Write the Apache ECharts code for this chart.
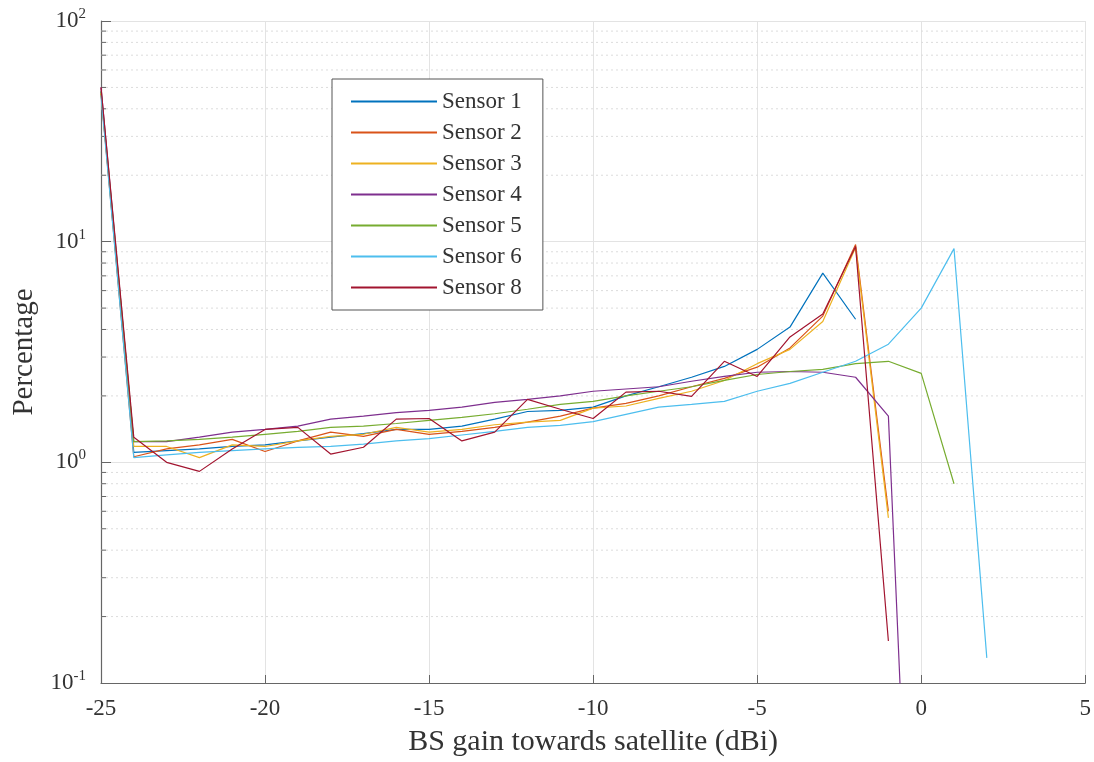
<!DOCTYPE html>
<html>
<head>
<meta charset="utf-8">
<script src="https://cdn.jsdelivr.net/npm/echarts@6/dist/echarts.min.js"></script>
<style>
  html, body { margin: 0; padding: 0; background: #fff; }
  #chart { width: 1094px; height: 762px; }
</style>
</head>
<body>
<div id="chart"></div>
<script>
// BS gain towards the satellite (dBi), one point per integer step
const gainDbi = [-25, -24, -23, -22, -21, -20, -19, -18, -17, -16, -15, -14, -13, -12,
                 -11, -10, -9, -8, -7, -6, -5, -4, -3, -2, -1, 0, 1, 2];

// Percentage of samples per sensor (null where the sensor has no samples)
const sensor1 = [48, 1.11, 1.13, 1.15, 1.18, 1.2, 1.25, 1.3, 1.35, 1.41, 1.41, 1.46, 1.57, 1.7,
                 1.72, 1.78, 2.0, 2.2, 2.43, 2.72, 3.25, 4.1, 7.2, 4.45, null, null, null, null];
const sensor2 = [47, 1.06, 1.15, 1.2, 1.27, 1.12, 1.25, 1.37, 1.31, 1.41, 1.34, 1.38, 1.44, 1.52,
                 1.62, 1.76, 1.85, 2.0, 2.2, 2.4, 2.7, 3.3, 4.6, 9.7, 0.6, null, null, null];
const sensor3 = [47, 1.18, 1.18, 1.05, 1.2, 1.18, 1.25, 1.31, 1.34, 1.44, 1.37, 1.41, 1.48, 1.52,
                 1.55, 1.76, 1.8, 1.95, 2.1, 2.35, 2.8, 3.25, 4.35, 9.4, 0.56, null, null, null];
const sensor4 = [50, 1.24, 1.24, 1.3, 1.37, 1.41, 1.46, 1.57, 1.62, 1.68, 1.72, 1.78, 1.87, 1.93,
                 2.0, 2.1, 2.15, 2.2, 2.33, 2.45, 2.56, 2.58, 2.56, 2.43, 1.62, 0.0006, null, null];
const sensor5 = [48, 1.24, 1.25, 1.27, 1.3, 1.34, 1.38, 1.44, 1.46, 1.5, 1.55, 1.6, 1.66, 1.74,
                 1.83, 1.89, 2.0, 2.1, 2.2, 2.35, 2.5, 2.58, 2.64, 2.8, 2.87, 2.53, 0.8, null];
const sensor6 = [46, 1.05, 1.08, 1.11, 1.13, 1.15, 1.17, 1.18, 1.21, 1.25, 1.28, 1.33, 1.38, 1.44,
                 1.47, 1.53, 1.65, 1.78, 1.83, 1.89, 2.1, 2.28, 2.56, 2.87, 3.43, 5.0, 9.3, 0.13];
const sensor8 = [50, 1.3, 1.0, 0.91, 1.15, 1.41, 1.44, 1.09, 1.17, 1.57, 1.58, 1.25, 1.37, 1.93,
                 1.74, 1.58, 2.08, 2.1, 1.99, 2.87, 2.45, 3.7, 4.7, 9.5, 0.155, null, null, null];

const seriesNames = ['Sensor 1', 'Sensor 2', 'Sensor 3', 'Sensor 4', 'Sensor 5', 'Sensor 6', 'Sensor 8'];
const seriesValues = [sensor1, sensor2, sensor3, sensor4, sensor5, sensor6, sensor8];
const seriesColors = ['#0072BD', '#D95319', '#EDB120', '#7E2F8E', '#77AC30', '#4DBEEE', '#A2142F'];

// Axis ranges and log-decade sub-divisions
const xMin = -25, xMax = 5, xStep = 5;
const yMin = 0.1, yMax = 100;
const minorLevels = [0.2, 0.3, 0.4, 0.5, 0.6, 0.7, 0.8, 0.9,
                     2, 3, 4, 5, 6, 7, 8, 9,
                     20, 30, 40, 50, 60, 70, 80, 90];

const serif = '"Liberation Serif", "Times New Roman", serif';
const textColor = '#333';
const axisColor = '#666';

const lineSeries = seriesNames.map((name, i) => ({
  name: name,
  type: 'line',
  data: gainDbi.map((g, k) => [g, seriesValues[i][k]]),
  symbol: 'none',
  connectNulls: false,
  clip: true,
  z: 3 + i,
  lineStyle: { color: seriesColors[i], width: 1.2 },
  itemStyle: { color: seriesColors[i] }
}));

// Dotted minor gridlines plus short inward minor ticks on the log axis
const minorGrid = {
  type: 'custom',
  name: 'minor',
  coordinateSystem: 'cartesian2d',
  silent: true,
  z: 1,
  encode: { x: 0, y: 1 },
  data: minorLevels.map(v => [xMin, v]),
  renderItem: function (params, api) {
    const v = api.value(1);
    const a = api.coord([xMin, v]);
    const b = api.coord([xMax, v]);
    return {
      type: 'group',
      children: [
        { type: 'line', shape: { x1: a[0], y1: a[1], x2: b[0], y2: b[1] },
          style: { stroke: '#dcdcdc', lineWidth: 1, lineDash: [2, 3] } },
        { type: 'line', shape: { x1: a[0], y1: a[1], x2: a[0] + 5, y2: a[1] },
          style: { stroke: axisColor, lineWidth: 1 } }
      ]
    };
  }
};

const chart = echarts.init(document.getElementById('chart'), null, { renderer: 'canvas' });

chart.setOption({
  animation: false,
  backgroundColor: '#ffffff',
  grid: { left: 101, top: 21, right: 8, bottom: 79, containLabel: false },
  legend: {
    data: seriesNames,
    orient: 'vertical',
    left: 332,
    top: 79,
    padding: [11, 21, 11, 19],
    itemGap: 8,
    itemWidth: 86,
    itemHeight: 2,
    icon: 'rect',
    backgroundColor: '#ffffff',
    borderColor: '#555',
    borderWidth: 1,
    textStyle: { fontFamily: serif, fontSize: 23, color: textColor }
  },
  xAxis: {
    type: 'value',
    min: xMin,
    max: xMax,
    interval: xStep,
    name: 'BS gain towards satellite (dBi)',
    nameLocation: 'middle',
    nameGap: 44,
    nameTextStyle: { fontFamily: serif, fontSize: 30, color: textColor },
    axisLine: { show: true, onZero: false, lineStyle: { color: axisColor, width: 1.2 } },
    axisTick: { show: true, inside: true, length: 8, lineStyle: { color: axisColor } },
    axisLabel: { fontFamily: serif, fontSize: 23, color: textColor, margin: 14 },
    splitLine: { show: true, lineStyle: { color: '#e3e3e3', width: 1 } }
  },
  yAxis: {
    type: 'log',
    logBase: 10,
    min: yMin,
    max: yMax,
    name: 'Percentage',
    nameLocation: 'middle',
    nameGap: 62,
    nameTextStyle: { fontFamily: serif, fontSize: 29, color: textColor },
    axisLine: { show: true, onZero: false, lineStyle: { color: axisColor, width: 1.2 } },
    axisTick: { show: true, inside: true, length: 10, lineStyle: { color: axisColor } },
    axisLabel: {
      margin: 15,
      formatter: function (v) {
        const p = Math.round(Math.log10(v));
        return '{b|10}{s|' + p + '}';
      },
      rich: {
        b: { fontFamily: serif, fontSize: 23, color: textColor },
        s: { fontFamily: serif, fontSize: 15, color: textColor, padding: [0, 0, 14, 0] }
      }
    },
    splitLine: { show: true, lineStyle: { color: '#e3e3e3', width: 1 } }
  },
  series: [minorGrid].concat(lineSeries)
});
</script>
</body>
</html>
